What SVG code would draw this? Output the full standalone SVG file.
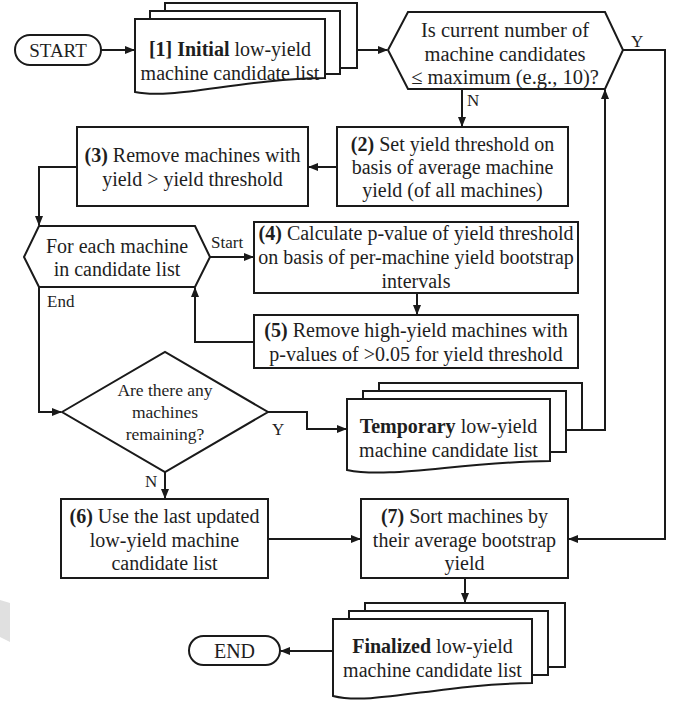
<svg xmlns="http://www.w3.org/2000/svg" width="678" height="703" viewBox="0 0 678 703">
<defs>
<marker id="arr" markerWidth="10" markerHeight="8" refX="9" refY="4" orient="auto" markerUnits="userSpaceOnUse">
<path d="M0,0 L10,4 L0,8 Z" fill="#1a1a1a"/>
</marker>
<style>
.s{fill:#fff;stroke:#1a1a1a;stroke-width:2}
.c{fill:none;stroke:#1a1a1a;stroke-width:2;marker-end:url(#arr)}
text{font-family:"Liberation Serif","Times New Roman",serif;fill:#1e1e1e;font-size:20px;text-anchor:middle}
.b{font-weight:bold}
.l{font-size:17px;text-anchor:start}
.d{font-size:17.5px}
.h{font-size:20.5px}
</style>
</defs>
<rect width="678" height="703" fill="#fff"/>
<polygon points="0,600 10,603 10,642 0,637" fill="#e0e0e0"/>

<g id="connectors">
<path class="c" d="M101,50 H134"/>
<path class="c" d="M357,50 H387"/>
<path class="c" d="M462,89 V126"/>
<path class="c" d="M337,167 H309"/>
<path class="c" d="M77,167 H39 V225"/>
<path class="c" d="M210,257 H253"/>
<path class="c" d="M417,293 V314"/>
<path class="c" d="M254,342 H195 V288"/>
<path class="c" d="M39,287 V412 H61"/>
<path class="c" d="M268,412 H307 V429 H346"/>
<path class="c" d="M582,430 H605 V90"/>
<path class="c" d="M623,50 H665 V539 H569"/>
<path class="c" d="M165,472 V498"/>
<path class="c" d="M268,539 H360"/>
<path class="c" d="M465,578 V602"/>
<path class="c" d="M333,651 H281"/>
</g>

<g id="start">
<rect class="s" x="15" y="35" width="86" height="30" rx="15"/>
<text x="58" y="57" style="font-size:19px">START</text>
</g>

<g id="doc1">
<rect class="s" x="165" y="3" width="192" height="65"/>
<rect class="s" x="150" y="11" width="190" height="63"/>
<path class="s" d="M135,19 H325 V78 C240,79 173,100 135,92 Z"/>
<text x="230" y="56"><tspan class="b">[1] Initial</tspan> low-yield</text>
<text x="230" y="80">machine candidate list</text>
</g>

<g id="dec1">
<polygon class="s" points="388,50 408,12 605,12 623,50 605,89 408,89"/>
<text class="h" x="505" y="37">Is current number of</text>
<text class="h" x="505" y="61">machine candidates</text>
<text class="h" x="505" y="84">≤ maximum (e.g., 10)?</text>
</g>
<text class="l" x="631" y="47">Y</text>
<text class="l" x="467" y="106">N</text>

<g id="step2">
<rect class="s" x="337" y="127" width="231" height="79"/>
<text x="452.5" y="151"><tspan class="b">(2)</tspan> Set yield threshold on</text>
<text x="452.5" y="174">basis of average machine</text>
<text x="452.5" y="197">yield (of all machines)</text>
</g>

<g id="step3">
<rect class="s" x="77" y="127" width="231" height="79"/>
<text x="192.5" y="162"><tspan class="b">(3)</tspan> Remove machines with</text>
<text x="192.5" y="186">yield &gt; yield threshold</text>
</g>

<g id="loop">
<polygon class="s" points="24,257 39,226 195,226 210,257 195,287 39,287"/>
<text x="117" y="253">For each machine</text>
<text x="117" y="276">in candidate list</text>
</g>
<text class="l" x="211" y="248">Start</text>
<text class="l" x="47" y="307">End</text>

<g id="step4">
<rect class="s" x="254" y="222" width="324" height="71"/>
<text x="416" y="240"><tspan class="b">(4)</tspan> Calculate p-value of yield threshold</text>
<text x="416" y="264">on basis of per-machine yield bootstrap</text>
<text x="416" y="288">intervals</text>
</g>

<g id="step5">
<rect class="s" x="254" y="315" width="324" height="53"/>
<text x="416" y="337"><tspan class="b">(5)</tspan> Remove high-yield machines with</text>
<text x="416" y="361">p-values of &gt;0.05 for yield threshold</text>
</g>

<g id="dec2">
<polygon class="s" points="62,412 165,352 268,412 165,472"/>
<text class="d" x="165" y="396">Are there any</text>
<text class="d" x="165" y="418">machines</text>
<text class="d" x="165" y="440">remaining?</text>
</g>
<text class="l" x="272" y="435">Y</text>
<text class="l" x="145" y="487">N</text>

<g id="tempdoc">
<rect class="s" x="379" y="383" width="203" height="47"/>
<rect class="s" x="363" y="391" width="203" height="61"/>
<path class="s" d="M347,399 H550 V461 C460,462 390,479 347,470 Z"/>
<text x="448.5" y="433"><tspan class="b">Temporary</tspan> low-yield</text>
<text x="448.5" y="457">machine candidate list</text>
</g>

<g id="step6">
<rect class="s" x="61" y="499" width="207" height="79"/>
<text x="164.5" y="523"><tspan class="b">(6)</tspan> Use the last updated</text>
<text x="164.5" y="547">low-yield machine</text>
<text x="164.5" y="570">candidate list</text>
</g>

<g id="step7">
<rect class="s" x="361" y="499" width="207" height="79"/>
<text x="464.5" y="523"><tspan class="b">(7)</tspan> Sort machines by</text>
<text x="464.5" y="547">their average bootstrap</text>
<text x="464.5" y="570">yield</text>
</g>

<g id="finaldoc">
<rect class="s" x="365" y="603" width="200" height="64"/>
<rect class="s" x="349" y="611" width="199" height="64"/>
<path class="s" d="M333,619 H532 V683 C440,684 372,706 333,696 Z"/>
<text x="432.5" y="653"><tspan class="b">Finalized</tspan> low-yield</text>
<text x="432.5" y="677">machine candidate list</text>
</g>

<g id="end">
<rect class="s" x="189" y="636" width="91" height="29" rx="14.5"/>
<text x="234.5" y="658">END</text>
</g>
</svg>
